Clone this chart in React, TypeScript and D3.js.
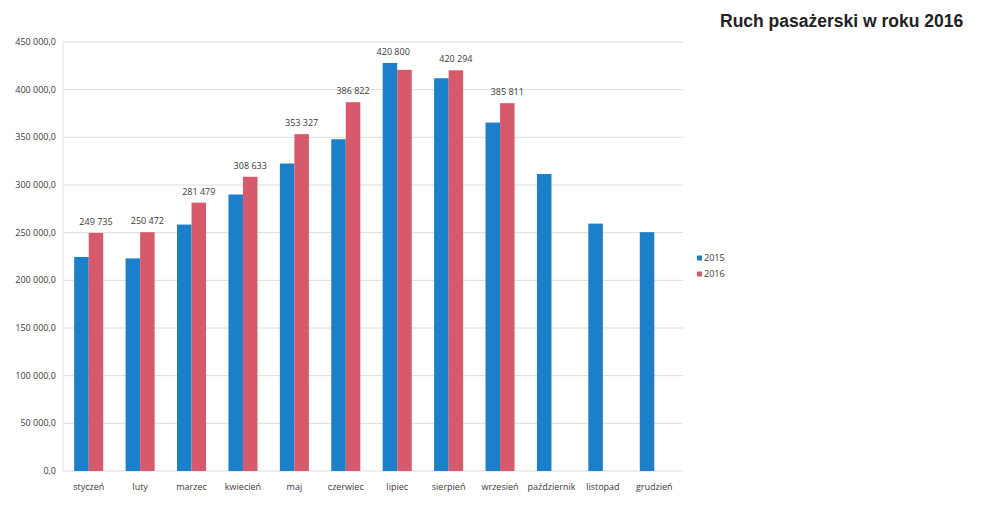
import React from "react";
import * as d3 from "d3";

const months = ["styczeń", "luty", "marzec", "kwiecień", "maj", "czerwiec", "lipiec", "sierpień", "wrzesień", "październik", "listopad", "grudzień"];
const series = ["2015", "2016"];
const values2015 = [224500, 223000, 258500, 290000, 322500, 348000, 428000, 412000, 365500, 311500, 259500, 250500];
const values2016: (number | null)[] = [249735, 250472, 281479, 308633, 353327, 386822, 420800, 420294, 385811, null, null, null];
const yTicks = [0, 50000, 100000, 150000, 200000, 250000, 300000, 350000, 400000, 450000];
const title = "Ruch pasażerski w roku 2016";
const colors = ["#1b7fca", "#d65a6c"];

const W = 993, H = 514;
const left = 63, right = 680, top = 42, bottom = 471;

const loc = d3.formatLocale({ decimal: ",", thousands: " ", grouping: [3], currency: ["", ""] });
const fmtTick = loc.format(",.1f");
const fmtVal = loc.format(",d");

export default function App() {
  const x = d3.scaleBand<string>().domain(months).range([left, right]).paddingInner(0.435).paddingOuter(0.2175);
  const xs = d3.scaleBand<string>().domain(series).range([0, x.bandwidth()]);
  const y = d3.scaleLinear().domain([0, 450000]).range([bottom, top]);
  const font = "'Open Sans', sans-serif";
  const textColor = "#3a3a3a";

  return (
    <svg width={W} height={H} style={{ position: "absolute", left: 0, top: 0, background: "#fff" }}>
      <rect width={W} height={H} fill="#fff" />
      {yTicks.map((t) => (
        <g key={t}>
          <line x1={left} x2={right + 3} y1={y(t)} y2={y(t)} stroke="#dcdcdc" strokeWidth={1} />
          <text x={56} y={y(t)} dy="0.35em" textAnchor="end" fontFamily={font} fontSize={9} fill={textColor}>
            {fmtTick(t)}
          </text>
        </g>
      ))}
      <line x1={left} x2={left} y1={top} y2={bottom} stroke="#e2e2e2" strokeWidth={1} />
      {months.map((m, i) => {
        const x0 = x(m)!;
        const v1 = values2015[i];
        const v2 = values2016[i];
        return (
          <g key={m}>
            <rect x={x0 + xs("2015")!} y={y(v1)} width={xs.bandwidth()} height={bottom - y(v1)} fill={colors[0]} />
            {v2 != null && (
              <rect x={x0 + xs("2016")!} y={y(v2)} width={xs.bandwidth()} height={bottom - y(v2)} fill={colors[1]} />
            )}
            {v2 != null && (
              <text
                x={v1 > v2 ? x0 + x.bandwidth() / 2 - 4 : x0 + xs("2016")! + xs.bandwidth() / 2}
                y={y(Math.max(v1, v2)) - 11}
                dy="0.35em"
                textAnchor="middle"
                fontFamily={font}
                fontSize={9}
                fill={textColor}
              >
                {fmtVal(v2)}
              </text>
            )}
            <text x={x0 + x.bandwidth() / 2} y={487} dy="0.35em" textAnchor="middle" fontFamily={font} fontSize={9} fill={textColor}>
              {m}
            </text>
          </g>
        );
      })}
      {series.map((s, i) => (
        <g key={s} transform={`translate(697, ${258 + i * 16})`}>
          <rect x={0} y={-2.5} width={5} height={5} fill={colors[i]} />
          <text x={7} y={0} dy="0.35em" fontFamily={font} fontSize={9} fill={textColor}>
            {s}
          </text>
        </g>
      ))}
      <text x={720} y={27} fontFamily="'Liberation Sans', Arial, sans-serif" fontWeight="bold" fontSize={17.5} fill="#222">
        {title}
      </text>
    </svg>
  );
}
